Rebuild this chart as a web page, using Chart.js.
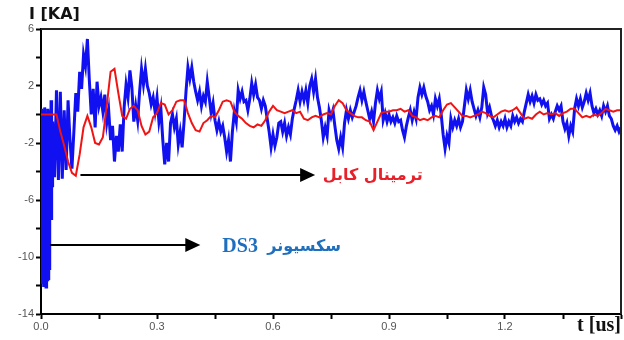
<!DOCTYPE html>
<html><head><meta charset="utf-8">
<script src="https://cdn.jsdelivr.net/npm/chart.js@4/dist/chart.umd.min.js"></script>
<style>html,body{margin:0;padding:0;background:#fff;overflow:hidden}</style>
</head><body>
<canvas id="c" width="624" height="340"></canvas>
<script>
// sampling of the traces (us)
const burstStep = 0.001;   // first 0.03 us of the blue trace
const blueStart = 0.03;
const blueStep = 0.005;
const redStep = 0.01;

// DS3 sectionalizer current (kA): initial burst, t = 0 .. 0.029 us
const blueBurstValues = [
 0.2,-11.3,0.4,-11.6,-0.5,-11.9,0.3,-12.1,-1.0,-12.0,
 0.5,-11.9,-0.8,-12.1,0.2,-11.8,-1.5,-11.7,0.4,-11.5,
 -0.6,-10.8,-1.2,-7.5,0.3,-6.8,1.0,-7.4,-0.5,-5.0
];

// DS3 sectionalizer current (kA), blue trace from t = 0.03 us
const blueValues = [
 -0.5,-4.4,1.7,-4.6,
 1.6,-4.5,0.3,-3.9,1.0,-1.8,-3.8,-1.2,1.5,0.2,
 3.0,1.8,4.2,3.4,5.3,2.4,0.0,1.8,-0.9,2.3,
 0.6,1.2,0.2,1.4,-0.6,0.3,-1.8,-0.8,-3.3,-1.5,
 -2.6,-0.7,-2.6,0.5,2.1,1.2,3.1,1.9,-0.5,0.6,
 -0.4,1.6,3.2,2.1,3.2,2.0,1.5,0.7,1.2,0.2,
 1.2,-0.5,0.4,-1.8,-3.5,-2.0,-3.3,-0.6,0.0,-0.9,
 -0.3,-2.1,-1.2,-2.3,-0.5,1.6,3.3,2.5,3.3,2.3,
 1.6,1.0,1.6,0.6,1.3,0.9,2.3,1.2,0.1,0.8,
 -0.4,-1.1,-0.5,-1.2,-0.8,-1.6,-2.6,-1.8,-3.3,-1.2,
 0.2,-0.5,1.7,1.1,1.6,0.9,1.0,0.3,1.1,2.2,
 1.4,2.1,1.2,1.0,0.4,1.0,0.6,-0.3,-1.2,-2.3,
 -1.4,-2.2,-1.6,-0.6,-0.5,-1.2,-0.6,-1.5,-0.9,-1.4,
 -0.3,0.4,1.0,1.7,0.9,1.6,1.0,1.7,0.8,2.0,
 2.5,1.6,2.5,1.2,0.5,-0.4,-1.6,-0.9,-1.5,0.3,
 -0.2,0.3,-0.8,-1.8,-2.4,-1.6,-2.3,-0.6,0.3,-0.3,
 0.3,-0.2,0.2,0.6,1.2,1.7,1.0,1.6,0.9,0.3,
 -0.3,0.2,-0.5,0.8,1.7,1.1,1.6,-0.4,0.1,-0.5,
 0.0,-0.5,-0.2,-0.6,-0.1,-0.5,-0.4,-1.1,-1.6,-0.8,
 -0.2,0.3,-0.4,0.2,-0.3,1.2,1.9,1.4,1.9,1.3,
 0.9,0.3,0.6,0.0,1.1,0.6,1.1,0.0,-1.4,-2.4,
 -1.5,-2.0,-0.3,-0.9,-0.4,-0.8,-0.3,-0.9,-0.5,0.6,
 1.7,1.1,1.7,0.9,0.4,-0.1,0.3,-0.2,0.5,1.9,
 1.4,0.1,0.5,-0.1,-0.4,-0.8,-0.4,-0.9,-0.5,-0.8,
 -0.3,-0.9,-0.5,-0.8,-0.1,-0.5,-0.2,-0.6,-0.3,-0.5,
 0.2,0.8,1.4,0.9,1.3,0.8,1.4,1.0,1.1,0.7,
 1.0,0.6,0.8,-0.3,0.0,-0.3,0.2,0.6,0.3,0.6,
 -0.5,-1.0,-0.6,-1.5,-0.8,-1.2,0.4,1.1,0.6,1.1,
 0.5,0.9,1.5,1.0,1.5,0.6,0.1,0.4,0.0,0.3,
 -0.1,0.6,0.2,0.6,-0.1,-0.3,-0.8,-1.1,-0.8,-1.2,
 -0.9
];

// cable terminal current (kA), red trace
const redValues = [
 0,0,0,0,0,-1.2,-2.2,-3.3,-4.1,-4.3,
 -2.8,-0.9,-0.1,-0.9,-2.0,-2.1,-1.6,0.6,3.0,3.2,
 1.5,-0.1,-0.3,0.4,0.6,0.3,-0.8,-1.4,-1.2,-0.2,
 0.1,0.8,0.7,0.0,0.3,0.9,1.0,1.0,0.1,-0.6,
 -1.1,-1.2,-0.6,-0.4,-0.1,-0.2,0.3,0.9,1.0,0.9,
 0.2,-0.1,-0.3,-0.6,-0.8,-0.9,-0.7,-0.8,-0.4,0.2,
 0.6,0.3,0.2,0.1,0.2,0.3,0.1,0.2,-0.3,-0.4,
 -0.2,-0.1,-0.2,0.0,0.1,0.0,0.6,1.0,0.8,0.3,
 0.1,-0.1,-0.2,-0.2,-0.4,-0.5,-1.1,-0.5,0.1,0.2,
 0.2,0.3,0.3,0.4,0.2,0.3,-0.1,-0.2,-0.4,-0.3,
 -0.4,-0.2,-0.1,-0.2,0.3,0.7,0.8,0.5,0.2,-0.1,
 -0.1,-0.2,-0.1,0.0,0.2,0.1,-0.1,-0.2,0.0,0.2,
 0.3,0.2,0.3,0.5,0.1,-0.3,-0.2,-0.3,0.0,0.2,
 0.0,0.1,0.0,0.1,-0.1,0.1,0.2,0.4,0.4,0.1,
 -0.2,-0.1,-0.2,0.0,-0.1,0.1,0.4,0.3,0.2,0.3,
 0.3
];

const yLabelled = [6, 2, -2, -6, -10, -14];
const xLabelled = ['0.0', '0.3', '0.6', '0.9', '1.2'];
const yTitle = 'I [KA]';
const xTitle = 't [us]';
const redNote = 'ترمینال کابل';
const blueNoteLatin = 'DS3';
const blueNotePersian = 'سکسیونر';

const blueData = blueBurstValues.map((v, i) => ({x: +(i * burstStep).toFixed(4), y: v}))
  .concat(blueValues.map((v, i) => ({x: +(blueStart + i * blueStep).toFixed(4), y: v})));
const redData = redValues.map((v, i) => ({x: +(i * redStep).toFixed(4), y: v}));

const notesPlugin = {
  id: 'notes',
  afterDraw(chart) {
    const {ctx, chartArea: a, scales: {x, y}} = chart;
    ctx.save();
    ctx.strokeStyle = '#222';
    ctx.lineWidth = 2;
    ctx.beginPath();
    ctx.moveTo(a.left, a.top); ctx.lineTo(a.right, a.top); ctx.lineTo(a.right, a.bottom);
    ctx.stroke();

    function arrow(t0, t1, v) {
      const x0 = x.getPixelForValue(t0), x1 = x.getPixelForValue(t1), yy = y.getPixelForValue(v);
      ctx.strokeStyle = '#000'; ctx.fillStyle = '#000'; ctx.lineWidth = 2;
      ctx.beginPath(); ctx.moveTo(x0, yy); ctx.lineTo(x1 - 12, yy); ctx.stroke();
      ctx.beginPath(); ctx.moveTo(x1, yy); ctx.lineTo(x1 - 15, yy - 7); ctx.lineTo(x1 - 15, yy + 7); ctx.closePath(); ctx.fill();
    }
    arrow(0.102, 0.709, -4.25);
    arrow(0.024, 0.412, -9.16);

    ctx.textBaseline = 'middle';
    ctx.fillStyle = '#e8202a';
    ctx.font = 'bold 16px "DejaVu Sans"';
    ctx.textAlign = 'right';
    ctx.fillText(redNote, x.getPixelForValue(0.987), y.getPixelForValue(-4.3));

    ctx.fillStyle = '#1f6fbf';
    ctx.font = 'bold 20px "Liberation Serif"';
    ctx.textAlign = 'left';
    ctx.fillText(blueNoteLatin, x.getPixelForValue(0.469), y.getPixelForValue(-9.3));
    ctx.font = 'bold 16px "DejaVu Sans"';
    ctx.textAlign = 'right';
    ctx.fillText(blueNotePersian, x.getPixelForValue(0.776), y.getPixelForValue(-9.3));

    ctx.fillStyle = '#111';
    ctx.textAlign = 'left';
    ctx.font = 'bold 16px "DejaVu Sans"';
    ctx.fillText(yTitle, a.left - 12, a.top - 14);
    ctx.textAlign = 'right';
    ctx.font = 'bold 20px "Liberation Serif"';
    ctx.fillText(xTitle, a.right, a.bottom + 12);
    ctx.restore();
  }
};

new Chart(document.getElementById('c'), {
  type: 'line',
  data: {
    datasets: [
      {label: 'cable', data: redData, borderColor: '#f01414', borderWidth: 2, pointRadius: 0, tension: 0, order: 0},
      {label: 'DS3', data: blueData, borderColor: '#1010f0', borderWidth: 3, pointRadius: 0, tension: 0, order: 1}
    ]
  },
  options: {
    responsive: false,
    animation: false,
    events: [],
    layout: {padding: {top: 29, right: 3, left: 0, bottom: 0}},
    plugins: {legend: {display: false}, tooltip: {enabled: false}},
    scales: {
      x: {
        type: 'linear', min: 0, max: 1.5,
        afterFit(s) { s.height = 26; },
        afterBuildTicks(s) { s.ticks = []; for (let k = 0; k <= 10; k++) s.ticks.push({value: +(k * 0.15).toFixed(2)}); },
        ticks: {
          autoSkip: false, maxRotation: 0, padding: 1,
          color: '#555', font: {family: '"Liberation Sans", Arial', size: 11},
          callback(v) { const s = Number(v).toFixed(1); return (Math.round(v * 100) % 30 === 0 && xLabelled.includes(s)) ? s : ''; }
        },
        grid: {drawOnChartArea: false, color: '#000', tickLength: 5, tickWidth: 2},
        border: {color: '#000', width: 2}
      },
      y: {
        type: 'linear', min: -14, max: 6,
        afterFit(s) { s.width = 41; },
        ticks: {
          stepSize: 2, autoSkip: false, padding: 2,
          color: '#555', font: {family: '"Liberation Sans", Arial', size: 11},
          callback(v) { return yLabelled.includes(v) ? String(v) : ''; }
        },
        grid: {drawOnChartArea: false, color: '#000', tickLength: 5, tickWidth: 2},
        border: {color: '#000', width: 2}
      }
    }
  },
  plugins: [notesPlugin]
});
</script>
</body></html>
